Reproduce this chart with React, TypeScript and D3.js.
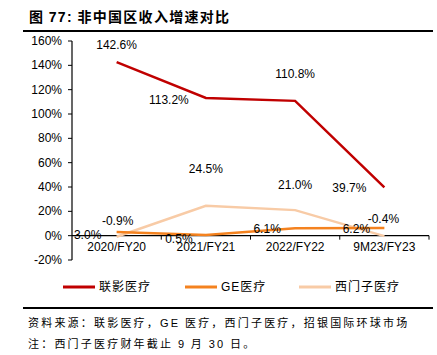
import React from "react";
import * as d3 from "d3";

const categories = ["2020/FY20", "2021/FY21", "2022/FY22", "9M23/FY23"];
const seriesNames = ["联影医疗", "GE医疗", "西门子医疗"];
const united = [142.6, 113.2, 110.8, 39.7];
const ge = [3.0, 0.5, 6.1, 6.2];
const siemens = [-0.9, 24.5, 21.0, -0.4];
const yTicks = [-20, 0, 20, 40, 60, 80, 100, 120, 140, 160];
const colors = ["#c00000", "#f4821f", "#f8cba6"];

// label offsets [dx, dy] per point
const unitedOff = [[0, -17], [-37, 2], [0, -27], [-35, 1]];
const geOff = [[-29, 3], [-27, 4], [-28, 1], [-28, 1]];
const siemensOff = [[1, -16], [0, -37], [0, -25], [-1, -17]];

export default function App() {
  const W = 437, H = 355;
  const x0 = 72, x1 = 429;
  const x = d3.scaleBand().domain(categories).range([x0, x1]);
  const y = d3.scaleLinear().domain([-20, 160]).range([260, 41]);
  const cx = (c: string) => (x(c) as number) + x.bandwidth() / 2;
  const line = d3.line<number>().x((_, i) => cx(categories[i])).y((d) => y(d));
  const series = [united, ge, siemens];
  const offs = [unitedOff, geOff, siemensOff];
  const numFont = "'Liberation Sans', Arial, sans-serif";
  const cjk = "'Noto Sans CJK SC', sans-serif";
  return (
    <svg width={W} height={H} style={{ position: "absolute", left: 0, top: 0, background: "#fff" }}>
      <text x={29} y={22} fontFamily={cjk} fontWeight="bold" fontSize={14} letterSpacing={1.3} fill="#000">
        图 <tspan fontFamily={numFont}>77:</tspan> 非中国区收入增速对比
      </text>
      <line x1={23} x2={433} y1={31} y2={31} stroke="#000" strokeWidth={2} />
      {/* y axis */}
      <line x1={x0} x2={x0} y1={y(160)} y2={y(-20)} stroke="#000" strokeWidth={1.2} />
      {yTicks.map((t) => (
        <g key={t}>
          <line x1={x0 - 4} x2={x0} y1={y(t)} y2={y(t)} stroke="#000" />
          <text x={62} y={y(t) + 4} textAnchor="end" fontFamily={numFont} fontSize={12} fill="#000">
            {t}%
          </text>
        </g>
      ))}
      {/* x axis at 0 */}
      <line x1={x0} x2={x1} y1={y(0)} y2={y(0)} stroke="#000" strokeWidth={1.2} />
      {categories.map((c) => (
        <g key={c}>
          <line x1={(x(c) as number) + x.bandwidth()} x2={(x(c) as number) + x.bandwidth()} y1={y(0)} y2={y(0) + 4} stroke="#000" />
          <text x={cx(c)} y={y(0) + 15} textAnchor="middle" fontFamily={numFont} fontSize={12} fill="#000">
            {c}
          </text>
        </g>
      ))}
      {/* lines: draw siemens, ge, united */}
      {[2, 1, 0].map((s) => (
        <path key={s} d={line(series[s]) as string} fill="none" stroke={colors[s]} strokeWidth={2.5} />
      ))}
      {series.map((vals, s) =>
        vals.map((v, i) => (
          <text key={s + "-" + i} x={cx(categories[i]) + offs[s][i][0]} y={y(v) + offs[s][i][1] + 4}
            textAnchor="middle" fontFamily={numFont} fontSize={12} fill="#000">
            {v.toFixed(1)}%
          </text>
        ))
      )}
      {/* legend */}
      {seriesNames.map((n, s) => {
        const lx = [63, 185, 299][s];
        return (
          <g key={n}>
            <line x1={lx} x2={lx + 32} y1={287} y2={287} stroke={colors[s]} strokeWidth={3} />
            <text x={lx + 36} y={291} fontFamily={s === 1 ? numFont : cjk} fontSize={12} letterSpacing={1} fill="#000">
              {s === 1 ? <>GE<tspan fontFamily={cjk}>医疗</tspan></> : n}
            </text>
          </g>
        );
      })}
      <line x1={23} x2={433} y1={308} y2={308} stroke="#000" strokeWidth={2} />
      <text x={28} y={327} fontFamily={cjk} fontSize={11} letterSpacing={2.2} fill="#000">
        资料来源：联影医疗，<tspan fontFamily={numFont}>GE</tspan> 医疗，西门子医疗，招银国际环球市场
      </text>
      <text x={28} y={348} fontFamily={cjk} fontSize={11} letterSpacing={2.2} fill="#000">
        注：西门子医疗财年截止 <tspan fontFamily={numFont}>9</tspan> 月 <tspan fontFamily={numFont}>30</tspan> 日。
      </text>
    </svg>
  );
}
